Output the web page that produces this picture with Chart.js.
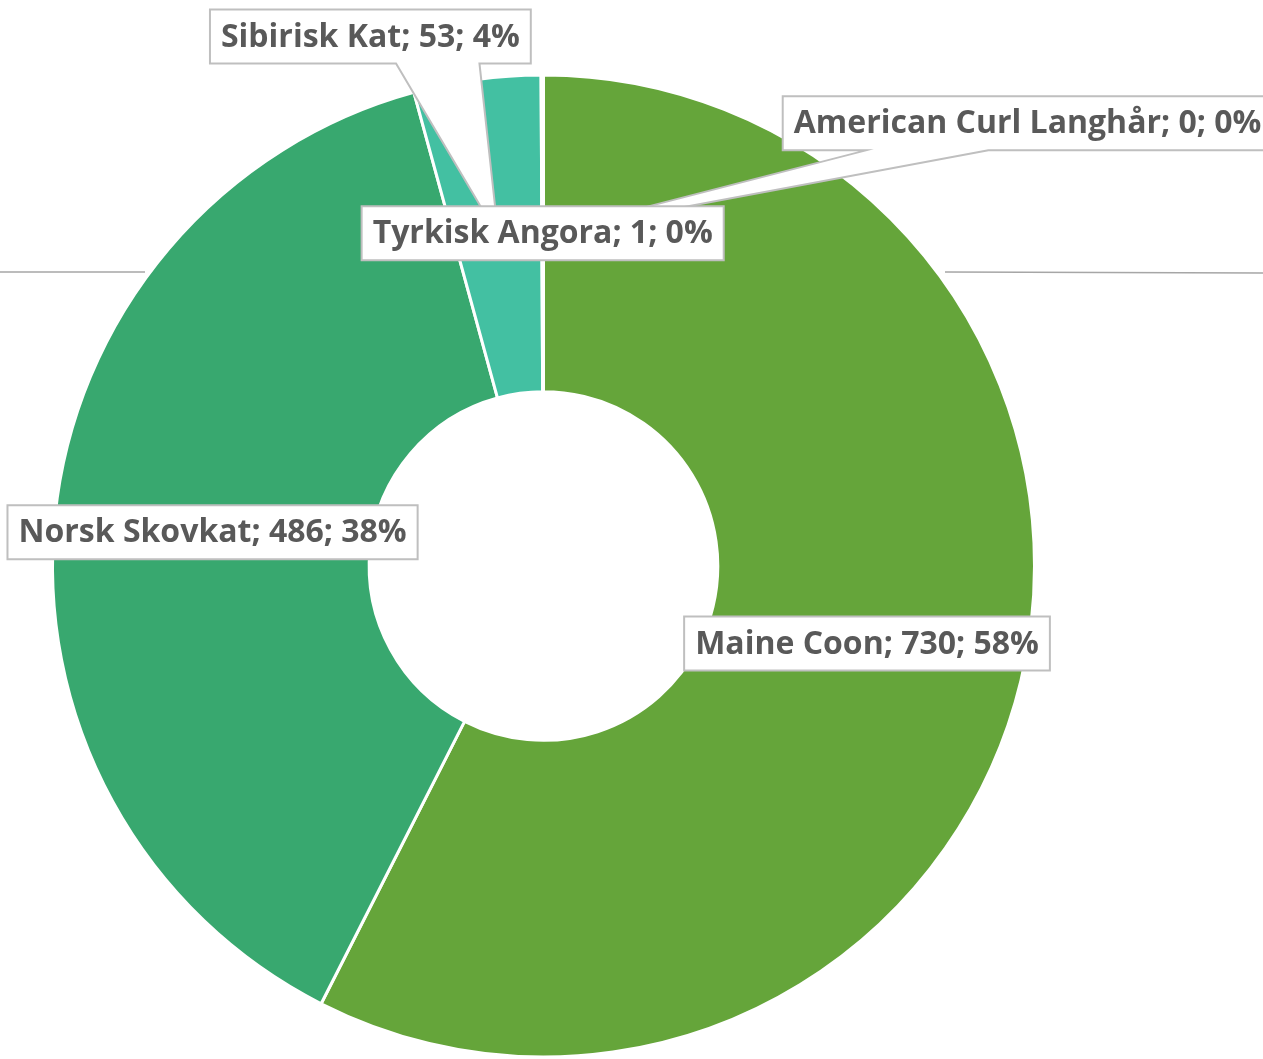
<!DOCTYPE html>
<html>
<head>
<meta charset="utf-8">
<script src="https://cdn.jsdelivr.net/npm/chart.js@4.4.1/dist/chart.umd.min.js"></script>
<style>
  html, body { margin: 0; padding: 0; background: #fff; }
  #wrap { width: 1263px; height: 1059px; position: relative; }
</style>
</head>
<body>
<div id="wrap"><canvas id="catChart"></canvas></div>
<script>
// data
const breeds = ['Maine Coon', 'Norsk Skovkat', 'Sibirisk Kat', 'Tyrkisk Angora', 'American Curl Langhår']
const counts = [730, 486, 53, 1, 0]
const sliceColors = ['#65A53A', '#38A86F', '#43C0A2', '#4CBFC0', '#58C0D0']

// label box offsets from slice centre, and where the callout pointer sits on the box bottom (fractions of width)
const labelOffsets = [[0, 0], [0, 0], [-128, -200], [0, 0], [484, -110]]
const pointerBase = [null, null, [0.58, 0.84], null, [0.17, 0.42]]
const drawOrder = [0, 1, 2, 4, 3]

// percentages rounded so they add up to 100 (like Excel does)
function roundedPercents(vals) {
  const total = vals.reduce((a, b) => a + b, 0)
  const raw = vals.map(v => v / total * 100)
  const out = raw.map(Math.floor)
  let left = 100 - out.reduce((a, b) => a + b, 0)
  raw.map((r, i) => [r - Math.floor(r), i])
    .sort((a, b) => b[0] - a[0])
    .forEach(([, i]) => { if (left > 0) { out[i]++; left-- } })
  return out
}

const labelPlugin = {
  id: 'excelLabels',
  afterDatasetsDraw(chart) {
    const ctx = chart.ctx
    const meta = chart.getDatasetMeta(0)
    const pcts = roundedPercents(counts)

    ctx.save()
    // stray leader lines
    ctx.strokeStyle = '#a6a6a6'
    ctx.lineWidth = 1.5
    ctx.beginPath()
    ctx.moveTo(0, 272); ctx.lineTo(145, 272)
    ctx.moveTo(945, 272); ctx.lineTo(1263, 273)
    ctx.stroke()

    ctx.font = 'bold 32px "Open Sans", sans-serif'
    ctx.textBaseline = 'middle'
    ctx.textAlign = 'center'

    drawOrder.forEach(i => {
      const arc = meta.data[i]
      const tip = arc.tooltipPosition()
      const text = breeds[i] + '; ' + counts[i] + '; ' + pcts[i] + '%'
      const w = ctx.measureText(text).width + 22
      const h = 54
      const cx = tip.x + labelOffsets[i][0]
      const cy = tip.y + labelOffsets[i][1]
      const x0 = cx - w / 2, y0 = cy - h / 2, x1 = cx + w / 2, y1 = cy + h / 2

      ctx.beginPath()
      ctx.moveTo(x0, y0)
      ctx.lineTo(x1, y0)
      ctx.lineTo(x1, y1)
      if (pointerBase[i]) {
        ctx.lineTo(x0 + w * pointerBase[i][1], y1)
        ctx.lineTo(tip.x, tip.y)
        ctx.lineTo(x0 + w * pointerBase[i][0], y1)
      }
      ctx.lineTo(x0, y1)
      ctx.closePath()
      ctx.fillStyle = '#ffffff'
      ctx.fill()
      ctx.strokeStyle = '#bfbfbf'
      ctx.lineWidth = 2
      ctx.stroke()

      ctx.fillStyle = '#595959'
      ctx.fillText(text, cx, cy + 1)
    })
    ctx.restore()
  }
}

const ctx = document.getElementById('catChart').getContext('2d')
const chart = new Chart(ctx, {
  type: 'doughnut',
  data: {
    labels: breeds,
    datasets: [{
      data: counts,
      backgroundColor: sliceColors,
      borderColor: '#ffffff',
      borderWidth: 3
    }]
  },
  options: {
    responsive: true,
    maintainAspectRatio: false,
    animation: false,
    cutout: '35.5%',
    layout: { padding: { left: 51, top: 73, right: 227, bottom: 0 } },
    plugins: {
      legend: { display: false },
      tooltip: { enabled: false }
    }
  },
  plugins: [labelPlugin]
})
</script>
</body>
</html>
